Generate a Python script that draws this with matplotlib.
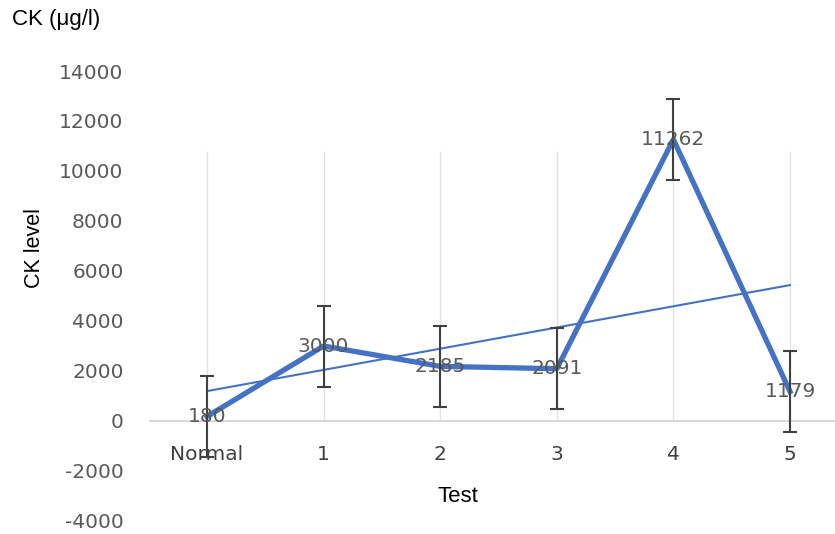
import matplotlib
matplotlib.use('Agg')
import matplotlib.pyplot as plt
import numpy as np

categorias = ['Normal', '1', '2', '3', '4', '5']
ck = [180, 3000, 2185, 2091, 11262, 1179]
erro = [1620, 1620, 1620, 1620, 1620, 1620]
y_ticks = [-4000, -2000, 0, 2000, 4000, 6000, 8000, 10000, 12000, 14000]

azul = '#4472C4'
cinza = '#595959'

fig = plt.figure(figsize=(8.35, 5.34), dpi=100)
graph = fig.add_axes([150 / 835, 13 / 534, 685 / 835, 450 / 534])

x = np.arange(len(categorias))

# linhas de grade verticais (só acima do zero)
graph.vlines(x, 0, 10800, color='#E3E3E3', lw=1, zorder=0)

graph.plot(x, ck, color=azul, lw=3.8, zorder=3)  # série principal
graph.errorbar(x, ck, yerr=erro, fmt='none', ecolor='#404040', elinewidth=1.5,
               capsize=5, capthick=1.5, zorder=4)

# linha de tendência linear
coef = np.polyfit(x, ck, 1)
graph.plot(x, np.polyval(coef, x), color=azul, lw=1.5, zorder=2)

for xi, v in zip(x, ck):
    graph.text(xi, v, str(v), ha='center', va='center', fontsize=14.5,
               color=cinza, family='DejaVu Sans', zorder=5)

graph.set_xlim(-0.489, 5.386)
graph.set_ylim(-4000, 14000)
graph.set_yticks(y_ticks)
graph.set_yticklabels([str(t) for t in y_ticks])
graph.set_xticks(x)
graph.set_xticklabels(categorias)

for s in ['top', 'right', 'left']:
    graph.spines[s].set_visible(False)
graph.spines['bottom'].set_position(('data', 0))
graph.spines['bottom'].set_color('#D9D9D9')
graph.spines['bottom'].set_linewidth(1.5)
graph.spines['bottom'].set_zorder(1)

graph.tick_params(axis='y', length=0, pad=19, labelsize=14.5, labelcolor=cinza)
graph.tick_params(axis='x', length=0, pad=17, labelsize=14.5, labelcolor='#404040')

fig.text(12 / 835, 1 - 20 / 534, 'CK (μg/l)', fontsize=16, family='Liberation Sans',
         ha='left', va='center', color='black')
fig.text(35 / 835, 1 - 248 / 534, 'CK level', fontsize=15.5, family='Liberation Sans',
         rotation=90, ha='center', va='center', color='black')
fig.text(458 / 835, 1 - 497 / 534, 'Test', fontsize=16, family='Liberation Sans',
         ha='center', va='center', color='black')

fig.savefig('out.png', dpi=100)
